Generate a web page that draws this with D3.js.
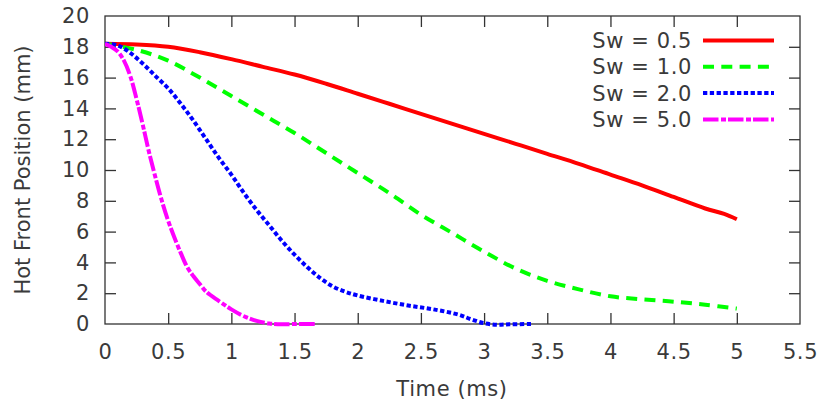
<!DOCTYPE html>
<html>
<head>
<meta charset="utf-8">
<script src="https://cdn.jsdelivr.net/npm/d3@7"></script>
<style>
  html, body { margin: 0; padding: 0; background: #fff; }
  svg { display: block; }
  text { font-family: "DejaVu Sans", sans-serif; fill: #3a3a3a; }
</style>
</head>
<body>
<svg id="chart" width="823" height="407"></svg>
<script>
// ---- data ----
const xTicks = [0, 0.5, 1, 1.5, 2, 2.5, 3, 3.5, 4, 4.5, 5, 5.5];
const yTicks = [0, 2, 4, 6, 8, 10, 12, 14, 16, 18, 20];
const seriesNames = ["Sw = 0.5", "Sw = 1.0", "Sw = 2.0", "Sw = 5.0"];

const t05 = [0, 0.25, 0.5, 0.75, 1.0, 1.25, 1.5, 1.75, 2.0, 2.25, 2.5, 2.75, 3.0, 3.25, 3.5, 3.75, 4.0, 4.25, 4.5, 4.75, 4.9, 5.0];
const v05 = [18.2, 18.15, 18.0, 17.65, 17.2, 16.7, 16.2, 15.6, 14.95, 14.3, 13.65, 13.0, 12.35, 11.7, 11.05, 10.4, 9.7, 9.0, 8.25, 7.5, 7.15, 6.8];

const t10 = [0, 0.25, 0.5, 0.75, 1.0, 1.25, 1.5, 1.75, 2.0, 2.25, 2.5, 2.75, 3.0, 3.25, 3.5, 3.75, 4.0, 4.25, 4.5, 4.75, 5.0];
const v10 = [18.2, 17.8, 17.1, 16.0, 14.8, 13.6, 12.4, 11.1, 9.8, 8.5, 7.1, 5.9, 4.7, 3.6, 2.8, 2.25, 1.8, 1.6, 1.45, 1.25, 1.0];

const t20 = [0, 0.1, 0.2, 0.3, 0.4, 0.5, 0.6, 0.7, 0.8, 0.9, 1.0, 1.1, 1.2, 1.3, 1.4, 1.5, 1.6, 1.7, 1.8, 1.9, 2.0, 2.2, 2.4, 2.6, 2.8, 2.9, 3.0, 3.1, 3.2, 3.38];
const v20 = [18.2, 18.1, 17.6, 16.9, 16.1, 15.3, 14.3, 13.2, 12.0, 10.8, 9.7, 8.5, 7.4, 6.4, 5.4, 4.5, 3.7, 3.0, 2.45, 2.1, 1.85, 1.5, 1.2, 0.95, 0.6, 0.3, 0.05, -0.05, -0.02, 0];

const t50 = [0, 0.05, 0.1, 0.15, 0.2, 0.25, 0.3, 0.35, 0.4, 0.45, 0.5, 0.55, 0.6, 0.65, 0.7, 0.75, 0.8, 0.9, 1.0, 1.1, 1.2, 1.3, 1.4, 1.5, 1.67];
const v50 = [18.2, 18.0, 17.7, 17.1, 16.1, 14.6, 12.9, 11.1, 9.5, 8.0, 6.7, 5.6, 4.6, 3.7, 3.1, 2.6, 2.1, 1.5, 0.95, 0.5, 0.2, 0.03, -0.02, 0, 0];

// ---- layout / style ----
const plot = { left: 105, right: 800, top: 16, bottom: 324 };
const styles = [
  { color: "#ff0000", dash: null },
  { color: "#00ff00", dash: "11,7.3" },
  { color: "#0000ff", dash: "4.3,2.5" },
  { color: "#ff00ff", dash: "15.5,2.5,5,2" }
];
const series = [
  { name: seriesNames[0], t: t05, v: v05 },
  { name: seriesNames[1], t: t10, v: v10 },
  { name: seriesNames[2], t: t20, v: v20 },
  { name: seriesNames[3], t: t50, v: v50 }
];

const svg = d3.select("#chart");
const x = d3.scaleLinear().domain([0, 5.5]).range([plot.left, plot.right]);
const y = d3.scaleLinear().domain([0, 20]).range([plot.bottom, plot.top]);
const tickLen = 11;
const axisColor = "#333";
const fs = "21px";

svg.append("defs").append("clipPath").attr("id", "clip")
  .append("rect").attr("x", plot.left).attr("y", plot.top - 3)
  .attr("width", plot.right - plot.left).attr("height", plot.bottom - plot.top + 6);

const fmt = d => String(d);
const gB = svg.append("g").attr("transform", `translate(0,${plot.bottom})`)
  .call(d3.axisBottom(x).tickValues(xTicks).tickFormat(fmt).tickSizeInner(-tickLen).tickSizeOuter(0));
const gT = svg.append("g").attr("transform", `translate(0,${plot.top})`)
  .call(d3.axisTop(x).tickValues(xTicks).tickFormat("").tickSizeInner(-tickLen).tickSizeOuter(0));
const gL = svg.append("g").attr("transform", `translate(${plot.left},0)`)
  .call(d3.axisLeft(y).tickValues(yTicks).tickFormat(fmt).tickSizeInner(-tickLen).tickSizeOuter(0).tickPadding(26));
const gR = svg.append("g").attr("transform", `translate(${plot.right},0)`)
  .call(d3.axisRight(y).tickValues(yTicks).tickFormat("").tickSizeInner(-tickLen).tickSizeOuter(0));

[gB, gT, gL, gR].forEach(g => {
  g.select(".domain").remove();
  g.selectAll(".tick line").attr("stroke", axisColor).attr("stroke-width", 1.3);
  g.selectAll(".tick text").style("font-size", fs).attr("fill", "#3a3a3a");
});
gB.selectAll(".tick text").style("letter-spacing", "0.6px");
gL.selectAll(".tick text").style("letter-spacing", "0.6px").attr("x", -15);
gB.selectAll(".tick").filter(d => d === 0 || d === 5.5).select("line").remove();
gT.selectAll(".tick").filter(d => d === 0 || d === 5.5).select("line").remove();
gL.selectAll(".tick").filter(d => d === 0 || d === 20).select("line").remove();
gR.selectAll(".tick").filter(d => d === 0 || d === 20).select("line").remove();

gB.selectAll(".tick text").attr("dy", null).attr("y", 35);

svg.append("rect").attr("x", plot.left).attr("y", plot.top)
  .attr("width", plot.right - plot.left).attr("height", plot.bottom - plot.top)
  .attr("fill", "none").attr("stroke", axisColor).attr("stroke-width", 1.3);

const line = d3.line().x(d => x(d[0])).y(d => y(d[1])).curve(d3.curveCatmullRom.alpha(0.5));
const gLines = svg.append("g").attr("clip-path", "url(#clip)");
series.forEach((s, i) => {
  const pts = s.t.map((tt, k) => [tt, s.v[k]]);
  gLines.append("path").datum(pts)
    .attr("d", line)
    .attr("fill", "none")
    .attr("stroke", styles[i].color)
    .attr("stroke-width", 4)
    .attr("stroke-dasharray", styles[i].dash)
    .attr("stroke-linejoin", "round");
});

const legend = svg.append("g");
series.forEach((s, i) => {
  const yy = 40.5 + i * 26.3;
  legend.append("text").attr("x", 692).attr("y", yy).attr("dy", "0.36em")
    .attr("text-anchor", "end").style("font-size", fs).style("letter-spacing", "0.6px").text(s.name);
  legend.append("line").attr("x1", 703).attr("x2", 774).attr("y1", yy).attr("y2", yy)
    .attr("stroke", styles[i].color).attr("stroke-width", 4)
    .attr("stroke-dasharray", styles[i].dash);
});

svg.append("text").attr("x", 452).attr("y", 396)
  .attr("text-anchor", "middle").style("font-size", fs).style("letter-spacing", "0.6px").text("Time (ms)");
svg.append("text")
  .attr("transform", `translate(30,${(plot.top + plot.bottom) / 2}) rotate(-90)`)
  .attr("text-anchor", "middle").style("font-size", fs).text("Hot Front Position (mm)");
</script>
</body>
</html>
